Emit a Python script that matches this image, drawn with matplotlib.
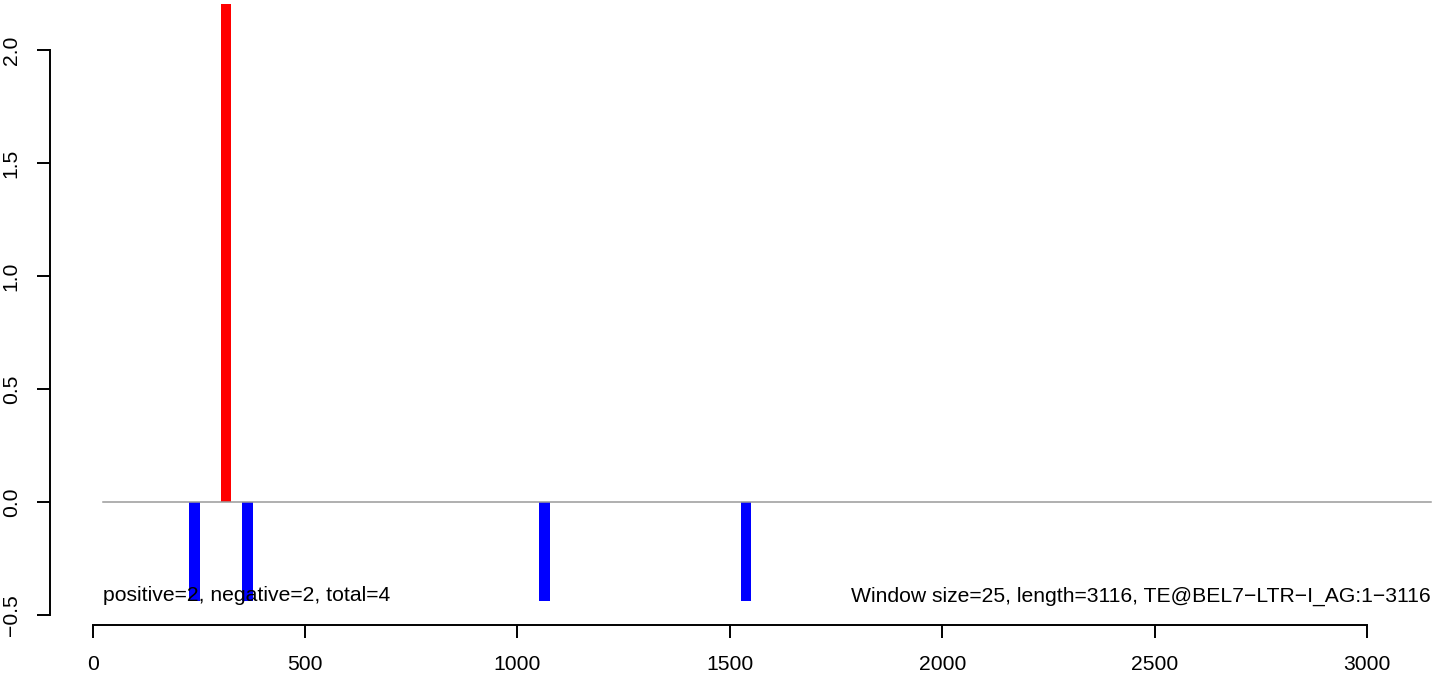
import matplotlib
matplotlib.use("Agg")
import matplotlib.pyplot as plt

# ---- data ----
pos_x = [314]
pos_y = [2.6]
neg_x = [239, 364, 1063, 1538]
neg_y = [-0.44, -0.44, -0.44, -0.44]
window_size = 25
seq_length = 3116
line_start = 25
line_end = 3150
x_ticks = [0, 500, 1000, 1500, 2000, 2500, 3000]
y_ticks = [-0.5, 0.0, 0.5, 1.0, 1.5, 2.0]
left_label = "positive=2, negative=2, total=4"
right_label = "Window size=25, length=3116, TE@BEL7\u2212LTR\u2212I_AG:1\u22123116"

plt.rcParams['font.family'] = ['Liberation Sans', 'DejaVu Sans']
plt.rcParams['axes.unicode_minus'] = True

W, H = 1444, 676
fig = plt.figure(figsize=(W / 100, H / 100), dpi=100)
left, right, bottom, top = 50, 1440, 625, 4
ax = fig.add_axes([left / W, (H - bottom) / H, (right - left) / W, (bottom - top) / H])

ax.set_xlim(-100.5, 3172)
ax.set_ylim(-0.544, 2.204)

ax.plot([line_start, line_end], [0, 0], color='#9a9a9a', lw=1.1, zorder=3)
ax.bar(pos_x, pos_y, width=window_size, color='#ff0000', zorder=2)
ax.bar(neg_x, neg_y, width=window_size, color='#0000ff', zorder=2)

fs = 15.25
ax.text(line_start, min(neg_y), left_label, ha='left', va='baseline', fontsize=fs, color='black', zorder=4)
ax.text(line_end, min(neg_y), right_label, ha='right', va='baseline', fontsize=fs, color='black', zorder=4)

for s in ['top', 'right']:
    ax.spines[s].set_visible(False)
ax.spines['left'].set_bounds(y_ticks[0], y_ticks[-1])
ax.spines['bottom'].set_bounds(x_ticks[0], x_ticks[-1])
for s in ['left', 'bottom']:
    ax.spines[s].set_linewidth(1.4)
    ax.spines[s].set_color('black')

ax.set_xticks(x_ticks)
ax.set_xticklabels([str(v) for v in x_ticks])
ax.set_yticks(y_ticks)
ax.set_yticklabels([f"{v:.1f}".replace('-', '\u2212') for v in y_ticks], rotation=90, va='center')
ax.tick_params(axis='both', direction='out', length=9.5, width=1.4, labelsize=fs, colors='black')
ax.tick_params(axis='x', pad=12)
ax.tick_params(axis='y', pad=11.5)
ax.patch.set_alpha(0)

fig.savefig("out.png", dpi=100, facecolor='white')
